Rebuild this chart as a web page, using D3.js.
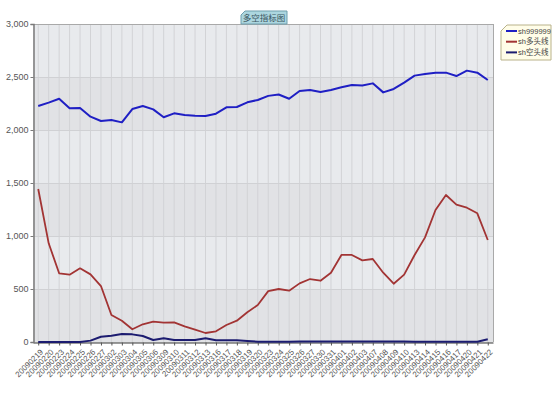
<!DOCTYPE html>
<html>
<head>
<meta charset="utf-8">
<script src="https://cdn.jsdelivr.net/npm/d3@7"></script>
<style>
  body { margin: 0; background: #fff; }
  svg { display: block; font-family: Arial, "Liberation Sans", sans-serif; }
</style>
</head>
<body>
<div id="chart"></div>
<script>
// trading days
const dates = ['20090219','20090220','20090223','20090224','20090225','20090226','20090227',
  '20090302','20090303','20090304','20090305','20090306','20090309','20090310','20090311',
  '20090312','20090313','20090316','20090317','20090318','20090319','20090320','20090323',
  '20090324','20090325','20090326','20090327','20090330','20090331','20090401','20090402',
  '20090403','20090407','20090408','20090409','20090410','20090413','20090414','20090415',
  '20090416','20090417','20090420','20090421','20090422'];

const index999999 = [2226,2258,2295,2205,2208,2126,2085,2094,2072,2198,2226,2195,2120,2157,2141,
  2135,2132,2154,2214,2217,2261,2283,2322,2335,2295,2368,2377,2358,2377,2403,2425,2420,2440,
  2355,2387,2447,2513,2528,2541,2541,2509,2560,2541,2472];

const longLine = [1443,931,648,635,695,638,528,255,200,120,167,192,182,185,148,116,85,101,160,
  201,280,349,480,500,484,553,594,578,654,821,821,770,783,654,550,635,821,987,1245,1387,1296,
  1267,1214,962];

const shortLine = [0,0,0,0,0,13,50,60,75,72,57,19,35,19,19,19,35,16,16,16,10,3,2,2,3,4,5,4,4,4,
  4,4,4,4,5,4,3,3,3,3,2,2,3,25];

const yTicks = [0, 500, 1000, 1500, 2000, 2500, 3000];
const seriesNames = ['sh999999', 'sh多头线', 'sh空头线'];
const seriesColors = ['#1f1fc4', '#a23434', '#1c1c70'];

const W = 560, H = 395;
const plotL = 33, plotR = 493, plotT = 24, plotB = 342;

const svg = d3.select('#chart').append('svg')
  .attr('width', W).attr('height', H);

const x = d3.scalePoint().domain(dates).range([plotL, plotR]).padding(0.5);
const y = d3.scaleLinear().domain([0, 3000]).range([plotB, plotT]);

// alternating background bands
const bands = d3.range(yTicks.length - 1);
svg.selectAll('.band').data(bands).enter().append('rect')
  .attr('x', plotL).attr('width', plotR - plotL)
  .attr('y', d => y(yTicks[d + 1]))
  .attr('height', d => y(yTicks[d]) - y(yTicks[d + 1]))
  .attr('fill', d => d % 2 === 0 ? '#e1e2e5' : '#e8eaed');

// vertical grid
svg.selectAll('.vgrid').data(dates).enter().append('line')
  .attr('x1', d => x(d)).attr('x2', d => x(d))
  .attr('y1', plotT).attr('y2', plotB)
  .attr('stroke', '#d2d3d6').attr('stroke-width', 1);

// horizontal grid
svg.selectAll('.hgrid').data(yTicks).enter().append('line')
  .attr('x1', plotL).attr('x2', plotR)
  .attr('y1', d => Math.round(y(d)) + 0.5).attr('y2', d => Math.round(y(d)) + 0.5)
  .attr('stroke', '#d0d1d4');

// frame
svg.append('line').attr('x1', plotL).attr('x2', plotR).attr('y1', plotT + 0.5).attr('y2', plotT + 0.5)
  .attr('stroke', '#a9a9a9');
svg.append('line').attr('x1', plotR + 0.5).attr('x2', plotR + 0.5).attr('y1', plotT).attr('y2', plotB)
  .attr('stroke', '#a9a9a9');

// y axis
const yAxis = svg.append('g')
  .attr('transform', `translate(${plotL + 0.5},0)`)
  .call(d3.axisLeft(y).tickValues(yTicks).tickSize(3).tickFormat(d3.format(',')));
yAxis.select('.domain').attr('stroke', '#7a7a7a').attr('stroke-width', 1.5);
yAxis.selectAll('.tick line').attr('stroke', '#7a7a7a');
yAxis.selectAll('.tick text').attr('fill', '#555').attr('font-size', '9px').attr('x', -5);

// x axis
const xAxis = svg.append('g')
  .attr('transform', `translate(0,${plotB + 0.5})`)
  .call(d3.axisBottom(x).tickSize(3).tickSizeOuter(0));
xAxis.select('.domain').attr('stroke', '#7a7a7a').attr('stroke-width', 1.5);
xAxis.selectAll('.tick line').attr('stroke', '#555');
xAxis.selectAll('.tick text')
  .attr('fill', '#555').attr('font-size', '8px')
  .attr('text-anchor', 'end')
  .attr('x', 0).attr('y', 0).attr('dy', '0.35em')
  .attr('transform', 'translate(3,8) rotate(-45)');

// lines
const allSeries = [index999999, longLine, shortLine];
const line = d3.line()
  .x((d, i) => x(dates[i]))
  .y(d => y(d));

svg.selectAll('.series').data(allSeries).enter().append('path')
  .attr('fill', 'none')
  .attr('stroke', (d, i) => seriesColors[i])
  .attr('stroke-width', (d, i) => i === 1 ? 1.8 : 2)
  .attr('stroke-linejoin', 'round')
  .attr('d', d => line(d));

// title tab
const tx0 = 241, tx1 = 287, ty0 = 11, ty1 = 24;
svg.append('path')
  .attr('d', `M${tx0 + 4},${ty0}H${tx1}V${ty1}H${tx0}V${ty0 + 4}Z`)
  .attr('fill', '#acd6df').attr('stroke', '#6f9fae');
svg.append('text')
  .attr('x', (tx0 + tx1) / 2).attr('y', 21)
  .attr('text-anchor', 'middle')
  .attr('font-family', '"Noto Sans CJK SC", sans-serif')
  .attr('font-size', '8.5px').attr('fill', '#3a5560')
  .text('多空指标图');

// legend
const lx0 = 501, lx1 = 551, ly0 = 25, ly1 = 60;
svg.append('path')
  .attr('d', `M${lx0 + 6},${ly0}H${lx1}V${ly1}H${lx0}V${ly0 + 6}Z`)
  .attr('fill', '#fffde8').attr('stroke', '#b9b28a');
const legend = svg.selectAll('.legend').data(seriesNames).enter().append('g')
  .attr('transform', (d, i) => `translate(506,${31 + i * 10.7})`);
legend.append('line')
  .attr('x1', 0).attr('x2', 11)
  .attr('stroke', (d, i) => seriesColors[i]).attr('stroke-width', 2);
legend.append('text')
  .attr('x', 12).attr('dy', '0.35em')
  .attr('font-family', 'Arial, "Noto Sans CJK SC", sans-serif')
  .attr('font-size', '7.5px').attr('fill', '#444')
  .text(d => d);
</script>
</body>
</html>
